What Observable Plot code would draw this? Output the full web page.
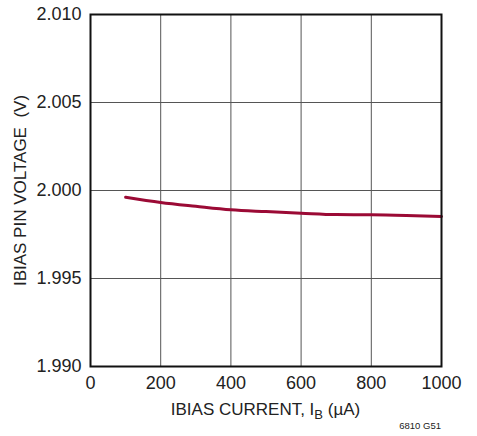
<!DOCTYPE html>
<html>
<head>
<meta charset="utf-8">
<script src="https://cdn.jsdelivr.net/npm/d3@7"></script>
<script src="https://cdn.jsdelivr.net/npm/@observablehq/plot@0.6"></script>
<style>
  body { margin: 0; background: #fff; }
  #wrap { width: 477px; font-family: "Liberation Sans Narrow", "Liberation Sans", Arial, sans-serif; }
  #caption { width: 441px; text-align: right; font-size: 9.5px; color: #222; height: 12px; line-height: 4px; }
</style>
</head>
<body>
<div id="wrap"></div>
<script>
const current = [100, 200, 300, 400, 500, 600, 700, 800, 900, 1000];
const voltage = [1.99962, 1.99932, 1.99910, 1.99890, 1.99880, 1.99871, 1.99863, 1.99862, 1.99858, 1.99852];
const xTicks = [0, 200, 400, 600, 800, 1000];
const yTicks = [1.990, 1.995, 2.000, 2.005, 2.010];

const data = current.map((c, i) => ({x: c, y: voltage[i]}));
const font = "'Liberation Sans Narrow', 'Liberation Sans', Arial, sans-serif";

function xLabel(index, scales, values, dims) {
  const t = d3.create("svg:text")
    .attr("x", (dims.marginLeft + dims.width - dims.marginRight) / 2)
    .attr("y", dims.height - 9)
    .attr("text-anchor", "middle")
    .attr("font-size", 17)
    .attr("font-family", font)
    .attr("fill", "#222");
  t.append("tspan").text("IBIAS CURRENT, I");
  t.append("tspan").attr("font-size", 13).attr("dy", 4).text("B");
  t.append("tspan").attr("dy", -4).text(" (µA)");
  return t.node();
}

const chart = Plot.plot({
  width: 477,
  height: 424,
  marginLeft: 90,
  marginRight: 36,
  marginTop: 14,
  marginBottom: 58,
  style: {fontFamily: font, fontSize: "18px", color: "#222", background: "#fff"},
  x: {domain: [0, 1000], ticks: xTicks, label: null},
  y: {domain: [1.990, 2.010], ticks: yTicks, label: null},
  marks: [
    Plot.gridX(xTicks, {stroke: "#555", strokeOpacity: 1, strokeWidth: 1}),
    Plot.gridY(yTicks, {stroke: "#555", strokeOpacity: 1, strokeWidth: 1}),
    Plot.axisX(xTicks, {tickSize: 0, tickPadding: 10, fontSize: 18, tickFormat: d3.format("d")}),
    Plot.axisY(yTicks, {tickSize: 0, tickPadding: 9, fontSize: 18, tickFormat: d3.format(".3f")}),
    Plot.line(data, {x: "x", y: "y", stroke: "#9b0a35", strokeWidth: 3, curve: "monotone-x"}),
    Plot.frame({stroke: "#111", strokeWidth: 2}),
    Plot.text(["IBIAS PIN VOLTAGE  (V)"], {frameAnchor: "left", dx: -70, rotate: -90, fontSize: 17, fill: "#222", textAnchor: "middle"}),
    xLabel
  ]
});

document.getElementById("wrap").append(chart);
const cap = document.createElement("div");
cap.id = "caption";
cap.textContent = "6810 G51";
document.getElementById("wrap").append(cap);
</script>
</body>
</html>
